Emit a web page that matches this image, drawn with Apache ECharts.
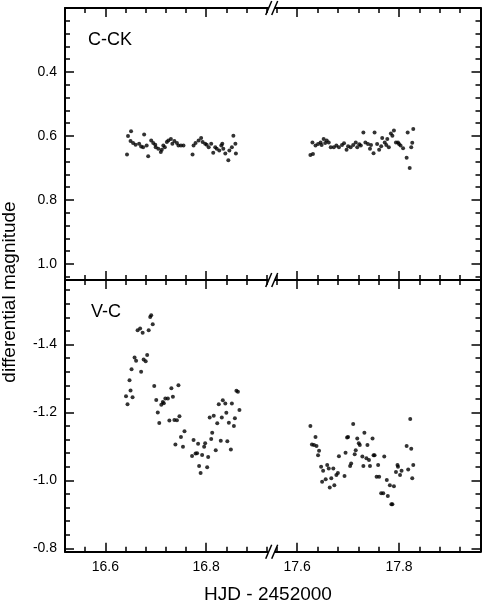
<!DOCTYPE html>
<html>
<head>
<meta charset="utf-8">
<script src="https://cdn.jsdelivr.net/npm/echarts@6.0.0/dist/echarts.min.js"></script>
<style>
  html, body { margin: 0; padding: 0; background: #fff; }
  #chart { width: 482px; height: 603px; }
</style>
</head>
<body>
<div id="chart"></div>
<script>
// HJD - 2452000, first night (16.x) and second night (17.x)
var cck_n1 = [
  [16.643,0.658],[16.645,0.600],[16.651,0.585],[16.650,0.616],[16.655,0.622],[16.660,0.627],
  [16.667,0.624],[16.671,0.633],[16.675,0.635],[16.677,0.595],[16.682,0.630],[16.685,0.663],
  [16.691,0.614],[16.695,0.622],[16.699,0.627],[16.700,0.635],[16.705,0.640],[16.710,0.650],
  [16.712,0.643],[16.715,0.630],[16.718,0.635],[16.722,0.619],[16.725,0.614],[16.730,0.609],
  [16.733,0.624],[16.737,0.616],[16.742,0.622],[16.745,0.630],[16.750,0.630],[16.755,0.630],
  [16.773,0.658],[16.775,0.630],[16.779,0.622],[16.785,0.614],[16.790,0.606],[16.793,0.619],
  [16.798,0.624],[16.801,0.627],[16.805,0.635],[16.810,0.624],[16.814,0.652],[16.818,0.635],
  [16.821,0.640],[16.826,0.645],[16.830,0.630],[16.832,0.624],[16.834,0.640],[16.838,0.655],
  [16.844,0.676],[16.846,0.645],[16.851,0.635],[16.854,0.599],[16.858,0.624],[16.859,0.655]
];
var cck_n2 = [
  [17.626,0.659],[17.631,0.656],[17.630,0.620],[17.636,0.630],[17.641,0.625],[17.646,0.620],
  [17.648,0.628],[17.652,0.609],[17.655,0.622],[17.658,0.614],[17.662,0.620],[17.666,0.635],
  [17.672,0.635],[17.677,0.630],[17.682,0.635],[17.688,0.628],[17.692,0.623],[17.697,0.643],
  [17.700,0.632],[17.705,0.635],[17.710,0.628],[17.715,0.620],[17.718,0.635],[17.722,0.626],
  [17.725,0.630],[17.730,0.589],[17.734,0.620],[17.739,0.625],[17.743,0.640],[17.745,0.628],
  [17.750,0.654],[17.752,0.589],[17.757,0.625],[17.761,0.643],[17.765,0.632],[17.767,0.606],
  [17.772,0.620],[17.775,0.628],[17.777,0.609],[17.780,0.635],[17.784,0.592],[17.787,0.599],
  [17.790,0.583],[17.794,0.620],[17.798,0.620],[17.800,0.625],[17.803,0.630],[17.808,0.638],
  [17.815,0.668],[17.817,0.589],[17.821,0.700],[17.824,0.635],[17.826,0.621],[17.828,0.578]
];
var vc_n1 = [
  [16.641,-1.248],[16.644,-1.224],[16.650,-1.265],[16.648,-1.295],[16.654,-1.245],[16.652,-1.327],
  [16.658,-1.362],[16.661,-1.352],[16.664,-1.442],[16.669,-1.447],[16.671,-1.320],[16.674,-1.435],
  [16.676,-1.356],[16.680,-1.351],[16.683,-1.369],[16.686,-1.442],[16.689,-1.481],[16.691,-1.486],
  [16.694,-1.460],[16.697,-1.278],[16.701,-1.237],[16.704,-1.200],[16.707,-1.169],[16.711,-1.223],
  [16.714,-1.231],[16.716,-1.227],[16.719,-1.241],[16.724,-1.241],[16.727,-1.176],[16.731,-1.271],
  [16.734,-1.246],[16.737,-1.178],[16.739,-1.106],[16.742,-1.177],[16.745,-1.280],[16.747,-1.189],
  [16.750,-1.128],[16.754,-1.099],[16.757,-1.145],[16.772,-1.072],[16.775,-1.119],[16.779,-1.079],
  [16.782,-1.080],[16.784,-1.108],[16.786,-1.042],[16.789,-1.022],[16.792,-1.075],[16.796,-1.099],
  [16.798,-1.109],[16.802,-1.039],[16.804,-1.069],[16.807,-1.185],[16.810,-1.122],[16.812,-1.140],
  [16.815,-1.190],[16.819,-1.089],[16.822,-1.168],[16.825,-1.224],[16.829,-1.117],[16.831,-1.185],
  [16.833,-1.236],[16.838,-1.226],[16.840,-1.199],[16.842,-1.115],[16.845,-1.170],[16.849,-1.091],
  [16.851,-1.226],[16.855,-1.160],[16.857,-1.183],[16.860,-1.264],[16.863,-1.261],[16.866,-1.207]
];
var vc_n2 = [
  [17.626,-1.160],[17.629,-1.106],[17.633,-1.104],[17.636,-1.128],[17.638,-1.101],[17.643,-1.087],
  [17.641,-1.074],[17.647,-1.040],[17.651,-1.028],[17.649,-0.996],[17.656,-1.003],[17.659,-1.045],
  [17.662,-1.035],[17.664,-0.979],[17.667,-1.006],[17.671,-1.035],[17.673,-0.986],[17.677,-1.016],
  [17.680,-1.022],[17.682,-1.071],[17.693,-1.013],[17.695,-1.081],[17.698,-1.126],[17.700,-1.128],
  [17.704,-1.042],[17.706,-1.050],[17.710,-1.166],[17.713,-1.077],[17.715,-1.089],[17.718,-1.123],
  [17.721,-1.109],[17.723,-1.104],[17.728,-1.070],[17.730,-1.042],[17.732,-1.140],[17.736,-1.065],
  [17.738,-1.104],[17.741,-1.060],[17.743,-1.042],[17.748,-1.123],[17.750,-1.074],[17.752,-1.074],
  [17.756,-1.011],[17.759,-1.045],[17.761,-1.011],[17.765,-0.962],[17.769,-0.962],[17.771,-1.070],
  [17.776,-1.001],[17.778,-0.954],[17.782,-0.986],[17.785,-0.930],[17.787,-0.930],[17.790,-0.983],
  [17.794,-1.025],[17.797,-1.045],[17.798,-1.040],[17.802,-1.016],[17.805,-1.028],[17.815,-1.101],
  [17.818,-1.032],[17.822,-1.181],[17.824,-1.093],[17.826,-1.006],[17.828,-1.045]
];

// axis ranges and labelled ticks
var xRange1 = [16.52, 16.93], xRange2 = [17.55, 17.96];
var xLabels1 = [16.6, 16.8], xLabels2 = [17.6, 17.8];
var yRangeTop = [0.2, 1.05], yRangeBot = [-1.59, -0.79];
var yLabelsTop = [0.4, 0.6, 0.8, 1.0], yLabelsBot = [-1.4, -1.2, -1.0, -0.8];
var panelNames = ['C-CK', 'V-C'];

var FONT = 'Liberation Sans, Arial, Helvetica, sans-serif';
var chart = echarts.init(document.getElementById('chart'));

function minorTicks(r) {
  var out = [];
  for (var k = Math.ceil(r[0] / 0.04 - 1e-6); k <= Math.floor(r[1] / 0.04 + 1e-6); k++) {
    out.push(+(k * 0.04).toFixed(2));
  }
  return out;
}

var breakX = 271.7, leftX = 65, rightX = 480.5;
var topY = 8, midY = 280, botY = 551.7;
var grids = [
  {left: leftX, top: topY, width: breakX - leftX, height: midY - topY},
  {left: breakX, top: topY, width: rightX - breakX, height: midY - topY},
  {left: leftX, top: midY, width: breakX - leftX, height: botY - midY},
  {left: breakX, top: midY, width: rightX - breakX, height: botY - midY}
];

var lineStyle = {color: '#000', width: 2};
var tickStyle = {color: '#000', width: 1.5};
var fmt = function (v) { return v.toFixed(1); };

function axisPair(kind, gi, pos, range, labels, showLabels) {
  var base = {type: 'value', gridIndex: gi, position: pos, min: range[0], max: range[1],
    splitLine: {show: false}};
  if (kind === 'y') base.inverse = true;
  var minor = Object.assign({}, base, {
    axisLine: {show: true, onZero: false, lineStyle: lineStyle},
    axisTick: {show: true, inside: true, length: 5, customValues: minorTicks(range), lineStyle: tickStyle},
    axisLabel: {show: false}
  });
  var major = Object.assign({}, base, {
    axisLine: {show: false, onZero: false},
    axisTick: {show: true, inside: true, length: 9, customValues: labels, lineStyle: tickStyle},
    axisLabel: {show: showLabels, customValues: labels, formatter: fmt, color: '#000',
      fontFamily: FONT, fontSize: 14, margin: 8}
  });
  return [minor, major];
}

var xAxes = [], yAxes = [], series = [];
var panels = [
  {data: [cck_n1, cck_n2], yr: yRangeTop, yl: yLabelsTop},
  {data: [vc_n1, vc_n2], yr: yRangeBot, yl: yLabelsBot}
];
panels.forEach(function (p, pi) {
  [0, 1].forEach(function (side) {
    var gi = pi * 2 + side;
    var xr = side === 0 ? xRange1 : xRange2;
    var xl = side === 0 ? xLabels1 : xLabels2;
    var xi = xAxes.length, yi = yAxes.length;
    xAxes = xAxes.concat(axisPair('x', gi, 'bottom', xr, xl, pi === 1));
    xAxes = xAxes.concat(axisPair('x', gi, 'top', xr, xl, false));
    yAxes = yAxes.concat(axisPair('y', gi, side === 0 ? 'left' : 'right', p.yr, p.yl, side === 0));
    series.push({
      type: 'scatter', xAxisIndex: xi, yAxisIndex: yi, data: p.data[side],
      symbol: 'circle', symbolSize: 4, itemStyle: {color: '#000'}, silent: true
    });
  });
});

// axis-break marks "//" on the three horizontal frame lines
var graphics = [];
[topY, midY, botY].forEach(function (cy) {
  graphics.push({type: 'rect', z: 100, shape: {x: breakX - 3, y: cy - 2, width: 6, height: 4},
    style: {fill: '#fff'}});
  [-6, 0].forEach(function (dx) {
    graphics.push({type: 'line', z: 101,
      shape: {x1: breakX + dx, y1: cy + 7, x2: breakX + dx + 6, y2: cy - 7},
      style: {stroke: '#000', lineWidth: 1.5}});
  });
});
graphics.push({type: 'text', z: 100, left: 88, top: 31,
  style: {text: panelNames[0], font: '18px ' + FONT, fill: '#000'}});
graphics.push({type: 'text', z: 100, left: 91, top: 303,
  style: {text: panelNames[1], font: '18px ' + FONT, fill: '#000'}});
graphics.push({type: 'text', z: 100, x: 268, y: 595,
  style: {text: 'HJD - 2452000', font: '19px ' + FONT, fill: '#000',
    textAlign: 'center', textVerticalAlign: 'middle'}});
graphics.push({type: 'text', z: 100, x: 10, y: 292, rotation: Math.PI / 2,
  style: {text: 'differential magnitude', font: '19px ' + FONT, fill: '#000',
    textAlign: 'center', textVerticalAlign: 'middle'}});

chart.setOption({
  animation: false,
  backgroundColor: '#fff',
  grid: grids,
  xAxis: xAxes,
  yAxis: yAxes,
  series: series,
  graphic: graphics
});
</script>
</body>
</html>
